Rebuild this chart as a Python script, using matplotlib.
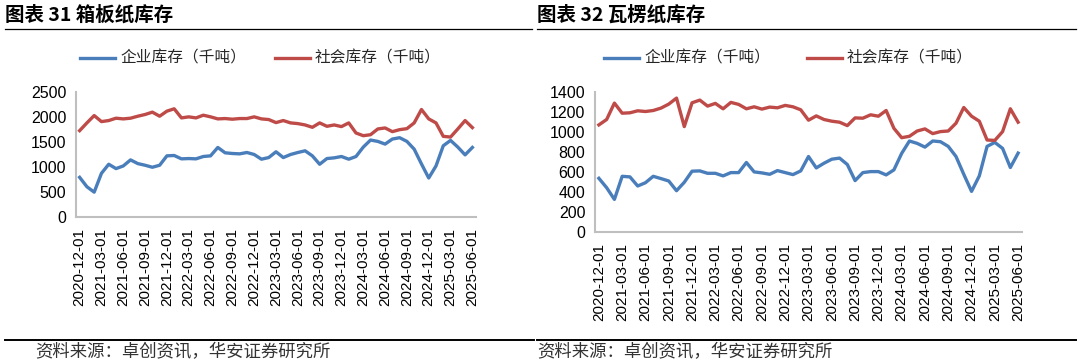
import matplotlib
matplotlib.use("Agg")
import matplotlib.pyplot as plt
from matplotlib.lines import Line2D
import pandas as pd

plt.rcParams['font.family'] = ['Liberation Sans', 'Noto Sans CJK SC', 'DejaVu Sans']

# ---------------- data ----------------
months = pd.date_range("2020-12-01", "2025-06-01", freq="MS").strftime("%Y-%m-%d").tolist()
tick_labels = ["2020-12-01", "2021-03-01", "2021-06-01", "2021-09-01", "2021-12-01",
               "2022-03-01", "2022-06-01", "2022-09-01", "2022-12-01", "2023-03-01",
               "2023-06-01", "2023-09-01", "2023-12-01", "2024-03-01", "2024-06-01",
               "2024-09-01", "2024-12-01", "2025-03-01", "2025-06-01"]

box_enterprise = [793, 605, 497, 874, 1055, 968, 1021, 1142, 1068, 1035,
                  995, 1035, 1223, 1230, 1163, 1169, 1163, 1210, 1223, 1391,
                  1284, 1270, 1263, 1290, 1250, 1156, 1189, 1304, 1189, 1250,
                  1290, 1324, 1223, 1055, 1169, 1183, 1210, 1156, 1210, 1398,
                  1539, 1512, 1458, 1559, 1586, 1512, 1357, 1062, 780, 1021,
                  1425, 1532, 1398, 1243, 1391]
box_social = [1727, 1882, 2029, 1908, 1929, 1976, 1962, 1976, 2016, 2050,
              2097, 2016, 2117, 2164, 1982, 2003, 1982, 2036, 2003, 1962,
              1969, 1956, 1969, 1969, 2003, 1962, 1949, 1888, 1929, 1882,
              1868, 1841, 1794, 1882, 1814, 1841, 1808, 1882, 1680, 1626,
              1646, 1761, 1781, 1707, 1747, 1767, 1882, 2150, 1962, 1882,
              1613, 1599, 1761, 1929, 1788]

cor_enterprise = [537, 443, 326, 557, 551, 460, 493, 557, 534, 510,
                  413, 497, 608, 611, 587, 587, 561, 594, 594, 695,
                  601, 591, 577, 614, 594, 574, 611, 755, 641, 688,
                  728, 739, 675, 514, 594, 604, 604, 571, 621, 786,
                  910, 886, 849, 910, 903, 856, 755, 577, 406, 561,
                  856, 896, 836, 645, 789]
cor_social = [1071, 1125, 1289, 1188, 1192, 1212, 1205, 1215, 1239, 1279,
              1339, 1054, 1292, 1319, 1259, 1286, 1232, 1296, 1276, 1232,
              1252, 1229, 1249, 1242, 1266, 1252, 1222, 1118, 1161, 1125,
              1108, 1098, 1064, 1141, 1138, 1172, 1158, 1215, 1037, 943,
              957, 1010, 1031, 984, 1004, 1010, 1088, 1245, 1158, 1108,
              920, 916, 1004, 1232, 1098]

series_names = ["企业库存（千吨）", "社会库存（千吨）"]
titles = ["图表 31 箱板纸库存", "图表 32 瓦楞纸库存"]
source_text = "资料来源：卓创资讯，华安证券研究所"

BLUE = "#4A7EBB"
RED = "#BE4B48"
SPINE = "#BFBFBF"

W, H = 1080, 364
fig = plt.figure(figsize=(W / 100, H / 100), dpi=100)


def px_axes(x0, y0, x1, y1):
    return fig.add_axes([x0 / W, 1 - y1 / H, (x1 - x0) / W, (y1 - y0) / H])


def hline(x0, x1, y, lw, color="black"):
    fig.add_artist(Line2D([x0 / W, x1 / W], [1 - y / H, 1 - y / H],
                          transform=fig.transFigure, color=color, lw=lw))


def draw_panel(ax, ent, soc, ymax, ystep):
    xs = list(range(len(months)))
    ax.plot(xs, ent, color=BLUE, lw=2.4, solid_joinstyle="round")
    ax.plot(xs, soc, color=RED, lw=2.4, solid_joinstyle="round")
    ax.set_xlim(-0.5, len(months) - 0.5)
    ax.set_ylim(0, ymax)
    ax.set_yticks(range(0, ymax + 1, ystep))
    ax.set_xticks([months.index(t) for t in tick_labels])
    ax.set_xticklabels(tick_labels, rotation=90, fontsize=11,
                       family=['Liberation Sans'])
    ax.tick_params(axis="y", labelsize=11.5, length=0, pad=7)
    ax.tick_params(axis="x", length=0, pad=8)
    for s in ["top", "right"]:
        ax.spines[s].set_visible(False)
    for s in ["left", "bottom"]:
        ax.spines[s].set_color(SPINE)
        ax.spines[s].set_linewidth(1.5)
    ax.patch.set_visible(False)


ax1 = px_axes(76, 92, 476, 217)
draw_panel(ax1, box_enterprise, box_social, 2500, 500)
ax2 = px_axes(595, 92, 1022, 232)
draw_panel(ax2, cor_enterprise, cor_social, 1400, 200)

# legends (manual placement in figure pixels)
def legend_item(x, y, color, text):
    fig.add_artist(Line2D([x / W, (x + 35) / W], [1 - y / H, 1 - y / H],
                          transform=fig.transFigure, color=color, lw=2.4))
    fig.text((x + 40) / W, 1 - y / H, text, fontsize=11.3, va="center", ha="left",
             family=['Noto Sans CJK SC'], color="#262626")

legend_item(80, 58, BLUE, series_names[0])
legend_item(275, 58, RED, series_names[1])
legend_item(604, 58, BLUE, series_names[0])
legend_item(807, 58, RED, series_names[1])

# titles and rules
fig.text(5 / W, 1 - 15 / H, titles[0], fontsize=14, fontweight="bold",
         va="center", ha="left", family=['Noto Sans CJK SC'])
fig.text(537 / W, 1 - 15 / H, titles[1], fontsize=14, fontweight="bold",
         va="center", ha="left", family=['Noto Sans CJK SC'])
hline(5, 532, 28.5, 0.9)
hline(537, 1076, 28.5, 0.9)

hline(5, 534, 339.5, 1.4)
hline(537, 1076, 339.5, 1.4)
fig.text(35 / W, 1 - 352 / H, source_text, fontsize=12.5, va="center", ha="left",
         family=['Noto Sans CJK SC'], color="#333333", fontweight="light")
fig.text(537 / W, 1 - 352 / H, source_text, fontsize=12.5, va="center", ha="left",
         family=['Noto Sans CJK SC'], color="#333333", fontweight="light")

fig.savefig("out.png", dpi=100)
